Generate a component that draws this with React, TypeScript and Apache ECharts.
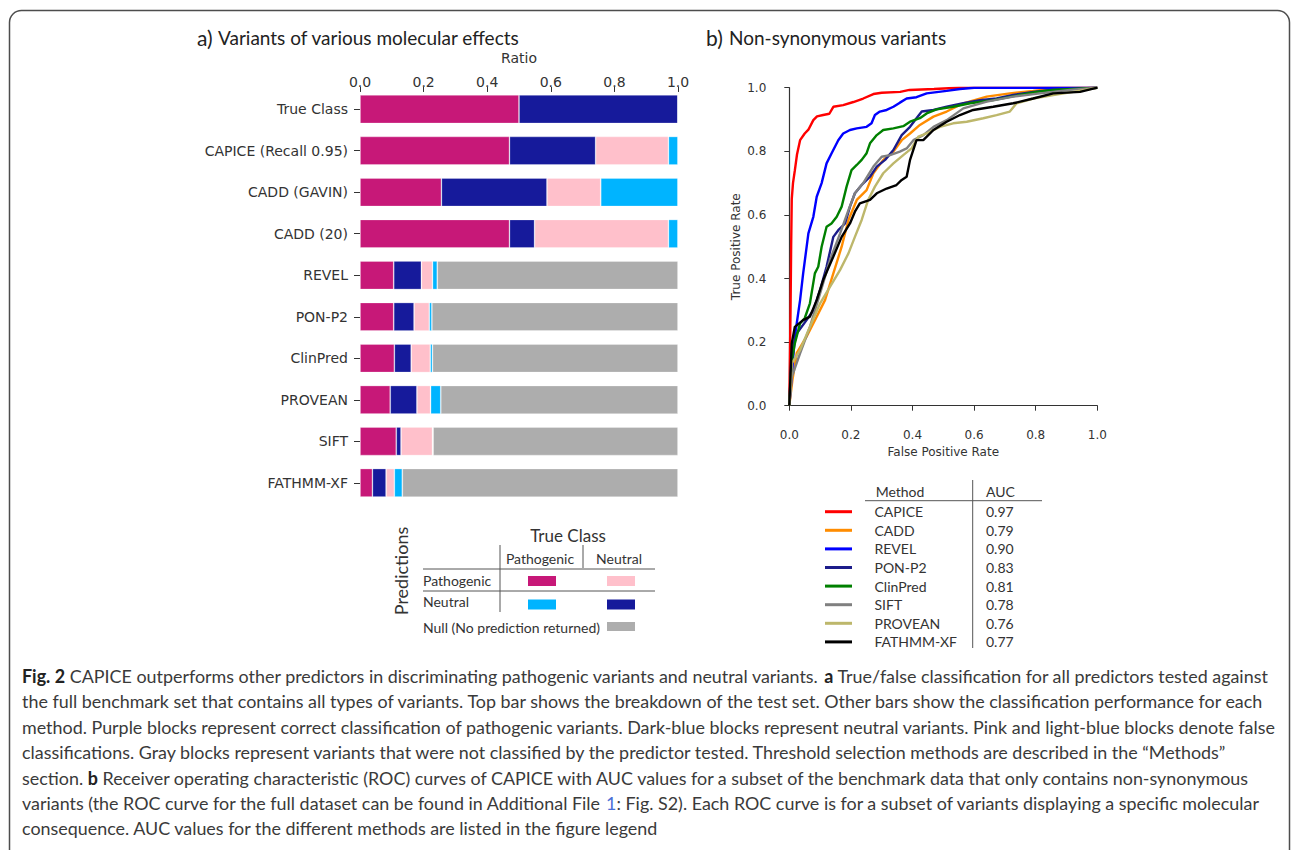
import { useEffect, useRef } from 'react';
import * as echarts from 'echarts';

// ---------- Panel a data ----------
const barCategories = ['True Class', 'CAPICE (Recall 0.95)', 'CADD (GAVIN)', 'CADD (20)', 'REVEL', 'PON-P2', 'ClinPred', 'PROVEAN', 'SIFT', 'FATHMM-XF'];
const truePathogenic = [0.5, 0.47, 0.256, 0.47, 0.106, 0.106, 0.108, 0.095, 0.114, 0.039];
const trueNeutral = [0.5, 0.271, 0.332, 0.079, 0.087, 0.064, 0.053, 0.084, 0.015, 0.043];
const falsePathogenic = [0, 0.229, 0.169, 0.421, 0.035, 0.048, 0.06, 0.043, 0.099, 0.026];
const falseNeutral = [0, 0.03, 0.243, 0.03, 0.015, 0.008, 0.007, 0.032, 0.002, 0.025];
const nullPrediction = [0, 0, 0, 0, 0.757, 0.774, 0.772, 0.746, 0.77, 0.867];
const barSeriesNames = ['Pathogenic / Pathogenic', 'Neutral / Neutral', 'Pathogenic / Neutral', 'Neutral / Pathogenic', 'Null (No prediction returned)'];

// ---------- Panel b data ----------
const rocMethods = ['CAPICE', 'CADD', 'REVEL', 'PON-P2', 'ClinPred', 'SIFT', 'PROVEAN', 'FATHMM-XF'];
const rocAuc = ['0.97', '0.79', '0.90', '0.83', '0.81', '0.78', '0.76', '0.77'];
const capiceRoc = [[0, 0], [0.004, 0.3], [0.006, 0.5], [0.008, 0.65], [0.012, 0.7], [0.018, 0.74], [0.025, 0.79], [0.035, 0.835], [0.05, 0.856], [0.062, 0.868], [0.078, 0.898], [0.09, 0.91], [0.11, 0.914], [0.13, 0.918], [0.143, 0.94], [0.175, 0.945], [0.208, 0.955], [0.24, 0.966], [0.273, 0.98], [0.3, 0.984], [0.36, 0.987], [0.39, 0.993], [0.47, 0.996], [0.55, 1.0], [1, 1]];
const caddRoc = [[0, 0], [0.01, 0.08], [0.024, 0.165], [0.056, 0.217], [0.089, 0.28], [0.116, 0.332], [0.143, 0.416], [0.17, 0.5], [0.192, 0.584], [0.219, 0.647], [0.251, 0.678], [0.273, 0.731], [0.305, 0.773], [0.338, 0.799], [0.365, 0.835], [0.392, 0.856], [0.424, 0.883], [0.468, 0.909], [0.511, 0.925], [0.565, 0.951], [0.641, 0.972], [0.716, 0.982], [0.792, 0.99], [0.857, 0.997], [1, 1]];
const revelRoc = [[0, 0], [0.01, 0.12], [0.018, 0.217], [0.035, 0.332], [0.045, 0.416], [0.062, 0.542], [0.078, 0.594], [0.089, 0.657], [0.105, 0.7], [0.121, 0.762], [0.137, 0.793], [0.159, 0.835], [0.175, 0.856], [0.197, 0.867], [0.219, 0.872], [0.251, 0.877], [0.267, 0.888], [0.278, 0.914], [0.294, 0.925], [0.316, 0.93], [0.338, 0.94], [0.359, 0.953], [0.381, 0.966], [0.413, 0.97], [0.446, 0.982], [0.511, 0.99], [0.554, 0.996], [0.6, 1.0], [1, 1]];
const ponp2Roc = [[0, 0], [0.008, 0.165], [0.024, 0.227], [0.056, 0.269], [0.078, 0.3], [0.1, 0.364], [0.121, 0.437], [0.143, 0.531], [0.159, 0.552], [0.181, 0.573], [0.197, 0.626], [0.213, 0.668], [0.235, 0.694], [0.262, 0.72], [0.284, 0.752], [0.311, 0.773], [0.338, 0.804], [0.365, 0.851], [0.392, 0.877], [0.413, 0.904], [0.43, 0.925], [0.468, 0.93], [0.511, 0.94], [0.565, 0.951], [0.619, 0.961], [0.673, 0.966], [0.727, 0.977], [0.792, 0.987], [0.857, 0.994], [1, 1]];
const clinpredRoc = [[0, 0], [0.008, 0.14], [0.018, 0.196], [0.035, 0.259], [0.05, 0.275], [0.067, 0.322], [0.083, 0.416], [0.094, 0.437], [0.105, 0.5], [0.121, 0.563], [0.137, 0.573], [0.154, 0.594], [0.17, 0.626], [0.186, 0.689], [0.202, 0.741], [0.219, 0.757], [0.235, 0.773], [0.251, 0.794], [0.262, 0.825], [0.284, 0.851], [0.305, 0.867], [0.338, 0.872], [0.37, 0.879], [0.392, 0.893], [0.424, 0.904], [0.446, 0.919], [0.478, 0.932], [0.532, 0.94], [0.587, 0.951], [0.662, 0.961], [0.749, 0.977], [0.803, 0.987], [0.857, 0.993], [1, 1]];
const siftRoc = [[0, 0], [0.008, 0.09], [0.035, 0.165], [0.067, 0.248], [0.1, 0.353], [0.132, 0.458], [0.165, 0.542], [0.192, 0.615], [0.213, 0.668], [0.24, 0.7], [0.273, 0.752], [0.3, 0.783], [0.327, 0.788], [0.359, 0.799], [0.381, 0.809], [0.403, 0.835], [0.435, 0.851], [0.468, 0.877], [0.511, 0.898], [0.565, 0.935], [0.641, 0.956], [0.727, 0.972], [0.814, 0.982], [0.911, 0.993], [1, 1]];
const proveanRoc = [[0, 0], [0.008, 0.133], [0.035, 0.175], [0.067, 0.248], [0.1, 0.322], [0.132, 0.374], [0.165, 0.427], [0.192, 0.479], [0.213, 0.531], [0.235, 0.584], [0.256, 0.647], [0.278, 0.689], [0.305, 0.731], [0.338, 0.762], [0.37, 0.788], [0.397, 0.809], [0.419, 0.846], [0.446, 0.856], [0.489, 0.877], [0.532, 0.888], [0.576, 0.893], [0.63, 0.904], [0.673, 0.914], [0.716, 0.925], [0.738, 0.951], [0.792, 0.966], [0.857, 0.977], [0.922, 0.987], [1, 1]];
const fathmmRoc = [[0, 0], [0.008, 0.196], [0.018, 0.248], [0.045, 0.269], [0.067, 0.28], [0.089, 0.332], [0.11, 0.395], [0.143, 0.469], [0.17, 0.531], [0.197, 0.573], [0.213, 0.61], [0.229, 0.636], [0.262, 0.647], [0.284, 0.668], [0.316, 0.683], [0.348, 0.694], [0.365, 0.71], [0.381, 0.72], [0.392, 0.773], [0.413, 0.835], [0.435, 0.835], [0.468, 0.867], [0.511, 0.893], [0.554, 0.914], [0.597, 0.93], [0.662, 0.94], [0.727, 0.951], [0.792, 0.966], [0.857, 0.982], [0.944, 0.987], [1, 1]];
const rocCurves = [capiceRoc, caddRoc, revelRoc, ponp2Roc, clinpredRoc, siftRoc, proveanRoc, fathmmRoc];

// ---------- Caption ----------
const captionLines = [
  '{b|Fig. 2} CAPICE outperforms other predictors in discriminating pathogenic variants and neutral variants. {b|a} True/false classification for all predictors tested against',
  'the full benchmark set that contains all types of variants. Top bar shows the breakdown of the test set. Other bars show the classification performance for each',
  'method. Purple blocks represent correct classification of pathogenic variants. Dark-blue blocks represent neutral variants. Pink and light-blue blocks denote false',
  'classifications. Gray blocks represent variants that were not classified by the predictor tested. Threshold selection methods are described in the \u201cMethods\u201d',
  'section. {b|b} Receiver operating characteristic (ROC) curves of CAPICE with AUC values for a subset of the benchmark data that only contains non-synonymous',
  'variants (the ROC curve for the full dataset can be found in Additional File {l|1}: Fig. S2). Each ROC curve is for a subset of variants displaying a specific molecular',
  'consequence. AUC values for the different methods are listed in the figure legend',
];

// ---------- Styles ----------
const barColors = ['#C71878', '#161A9B', '#FFC0CB', '#00B4FF', '#ADADAD'];
const rocColors = ['#FF0000', '#FF8C00', '#0000FF', '#1C1C8A', '#008000', '#808080', '#BDB76B', '#000000'];
const FONT_UI = 'Lato, "Noto Sans", sans-serif';
const FONT_MPL = '"DejaVu Sans", sans-serif';
const TEXT_C = '#333333';

function txt(x: number, y: number, text: string, o: any = {}) {
  const { scaleX, rotation, ...style } = o;
  const el: any = {
    type: 'text', x, y, z: 10,
    style: {
      text, fill: TEXT_C, fontFamily: FONT_UI, fontSize: 14,
      align: 'left', textAlign: 'left', verticalAlign: 'middle', textVerticalAlign: 'middle',
      ...style,
    },
  };
  if (style.align) el.style.textAlign = style.align;
  if (scaleX) el.scaleX = scaleX;
  if (rotation) el.rotation = rotation;
  return el;
}
function hline(x1: number, x2: number, y: number, color = '#555', w = 1) {
  return { type: 'line', z: 10, shape: { x1, y1: y, x2, y2: y }, style: { stroke: color, lineWidth: w } };
}
function vline(x: number, y1: number, y2: number, color = '#555', w = 1) {
  return { type: 'line', z: 10, shape: { x1: x, y1, x2: x, y2 }, style: { stroke: color, lineWidth: w } };
}
function swatch(x: number, y: number, color: string, w = 28, h = 10) {
  return { type: 'rect', z: 10, shape: { x, y, width: w, height: h }, style: { fill: color } };
}

export default function App() {
  const ref = useRef<HTMLDivElement>(null);
  useEffect(() => {
    document.body.style.margin = '0';
    const chart = echarts.init(ref.current!, null, { renderer: 'svg' });

    const graphics: any[] = [];
    // frame
    graphics.push({ type: 'rect', z: 1, shape: { x: 9.5, y: 10.5, width: 1280, height: 900, r: 12 }, style: { fill: 'none', stroke: '#4d4d4d', lineWidth: 1.5 } });
    // titles
    graphics.push(txt(197, 37, 'a)', { fontSize: 21, fill: '#222' }));
    graphics.push(txt(218, 37, 'Variants of various molecular effects', { fontSize: 19, fill: '#222' }));
    graphics.push(txt(706, 37, 'b)', { fontSize: 21, fill: '#222' }));
    graphics.push(txt(729, 37, 'Non-synonymous variants', { fontSize: 19, fill: '#222' }));

    // left legend table
    graphics.push(txt(401, 571, 'Predictions', { fontSize: 18, align: 'center', rotation: Math.PI / 2 }));
    graphics.push(txt(568, 535, 'True Class', { fontSize: 17, align: 'center' }));
    graphics.push(vline(500, 545, 612));
    graphics.push(vline(583, 545, 568));
    graphics.push(txt(540, 558, 'Pathogenic', { fontSize: 14, align: 'center' }));
    graphics.push(txt(619, 558, 'Neutral', { fontSize: 14, align: 'center' }));
    graphics.push(hline(423, 655, 569));
    graphics.push(txt(423, 580, 'Pathogenic', { fontSize: 14 }));
    graphics.push(swatch(528, 576, barColors[0]));
    graphics.push(swatch(607, 576, barColors[2]));
    graphics.push(hline(423, 655, 591));
    graphics.push(txt(423, 601, 'Neutral', { fontSize: 14 }));
    graphics.push(swatch(528, 599.5, barColors[3]));
    graphics.push(swatch(607, 599.5, barColors[1]));
    graphics.push(txt(423, 627, 'Null (No prediction returned)', { fontSize: 14 }));
    graphics.push(swatch(607, 622, barColors[4], 28, 9));

    // ROC legend table
    graphics.push(txt(900, 491, 'Method', { fontSize: 14, align: 'center' }));
    graphics.push(txt(986, 491, 'AUC', { fontSize: 14 }));
    graphics.push(hline(865, 1042, 500.7));
    graphics.push(vline(972.7, 480, 648));
    rocMethods.forEach((m, i) => {
      const y = 511.7 + i * 18.6;
      graphics.push(hline(825, 852, y, rocColors[i], 3));
      graphics.push(txt(874.5, y, m, { fontSize: 14 }));
      graphics.push(txt(986, y, rocAuc[i], { fontSize: 14 }));
    });

    // caption
    captionLines.forEach((line, i) => {
      graphics.push(txt(22, 676 + i * 25.4, line, {
        fontSize: 18, fill: '#3a3a3a', scaleX: 0.995,
        rich: { b: { fontWeight: 'bold', fontSize: 18, fontFamily: FONT_UI, fill: '#222' }, l: { fill: '#4b6fd6', fontSize: 18, fontFamily: FONT_UI } },
      }));
    });

    const barSeriesData = [truePathogenic, trueNeutral, falsePathogenic, falseNeutral, nullPrediction];

    chart.setOption({
      animation: false,
      backgroundColor: '#ffffff',
      textStyle: { fontFamily: FONT_MPL },
      grid: [
        { left: 360, top: 88.45, width: 318, height: 415.1 },
        { left: 789.3, top: 87.7, width: 308, height: 318 },
      ],
      xAxis: [
        {
          gridIndex: 0, type: 'value', position: 'top', min: 0, max: 1, interval: 0.2, offset: -3.5,
          name: 'Ratio', nameLocation: 'middle', nameGap: 27,
          nameTextStyle: { fontFamily: FONT_MPL, fontSize: 14, color: TEXT_C },
          axisLine: { show: false },
          axisTick: { show: true, length: 5, lineStyle: { color: '#333' } },
          axisLabel: { fontFamily: FONT_MPL, fontSize: 14, color: TEXT_C, margin: 3, formatter: (v: number) => v.toFixed(1) },
          splitLine: { show: false },
        },
        {
          gridIndex: 1, type: 'value', min: 0, max: 1, interval: 0.2, offset: 15.3,
          name: 'False Positive Rate', nameLocation: 'middle', nameGap: 25,
          nameTextStyle: { fontFamily: FONT_MPL, fontSize: 12, color: TEXT_C },
          axisLine: { show: true, lineStyle: { color: '#333', width: 1.2 } },
          axisTick: { show: true, length: 5, lineStyle: { color: '#333' } },
          axisLabel: { fontFamily: FONT_MPL, fontSize: 12, color: TEXT_C, margin: 8, formatter: (v: number) => v.toFixed(1) },
          splitLine: { show: false },
        },
      ],
      yAxis: [
        {
          gridIndex: 0, type: 'category', data: barCategories, inverse: true, offset: 3,
          axisLine: { show: false },
          axisTick: { show: true, length: 6, alignWithLabel: true, lineStyle: { color: '#333' } },
          axisLabel: { fontFamily: FONT_MPL, fontSize: 14, color: TEXT_C, margin: 9 },
        },
        {
          gridIndex: 1, type: 'value', min: 0, max: 1, interval: 0.2, offset: 15,
          name: 'True Positive Rate', nameLocation: 'middle', nameGap: 32,
          nameTextStyle: { fontFamily: FONT_MPL, fontSize: 12, color: TEXT_C },
          axisLine: { show: true, lineStyle: { color: '#333', width: 1.2 } },
          axisTick: { show: true, length: 5, lineStyle: { color: '#333' } },
          axisLabel: { fontFamily: FONT_MPL, fontSize: 12, color: TEXT_C, margin: 8, formatter: (v: number) => v.toFixed(1) },
          splitLine: { show: false },
        },
      ],
      series: [
        ...barSeriesData.map((d, i) => ({
          type: 'bar', name: barSeriesNames[i], stack: 'total', xAxisIndex: 0, yAxisIndex: 0,
          data: d, barWidth: 28.5,
          itemStyle: { color: barColors[i], borderColor: 'rgba(255,255,255,0.35)', borderWidth: 0.8 },
        })),
        ...rocCurves.map((d, i) => ({
          type: 'line', name: rocMethods[i], xAxisIndex: 1, yAxisIndex: 1, data: d,
          showSymbol: false, symbol: 'none',
          lineStyle: { color: rocColors[i], width: 2.4 },
        })),
      ],
      graphic: { elements: graphics },
    });
    return () => chart.dispose();
  }, []);
  return <div ref={ref} style={{ width: 1292, height: 850 }} />;
}
